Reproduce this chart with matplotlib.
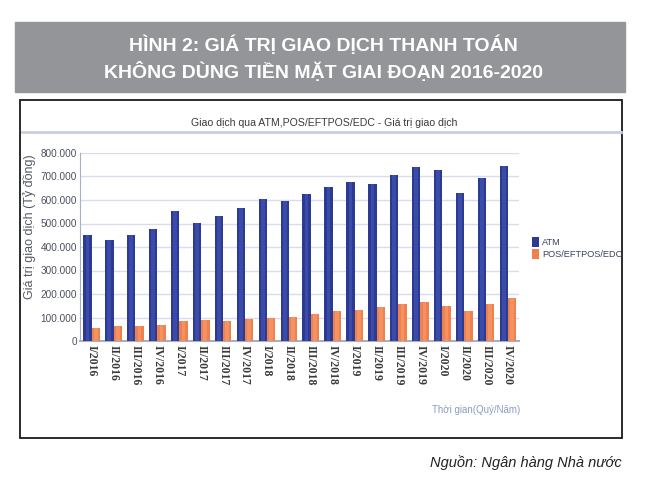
import numpy as np
import matplotlib.pyplot as plt
from matplotlib.patches import Rectangle

quarters = ["I/2016", "II/2016", "III/2016", "IV/2016",
            "I/2017", "II/2017", "III/2017", "IV/2017",
            "I/2018", "II/2018", "III/2018", "IV/2018",
            "I/2019", "II/2019", "III/2019", "IV/2019",
            "I/2020", "II/2020", "III/2020", "IV/2020"]
# ty dong
atm = [453, 431, 450, 477, 552, 504, 530, 567, 604, 594,
       626, 656, 678, 669, 706, 739, 727, 631, 695, 746]
pos = [55, 63, 63, 70, 84, 88, 84, 94, 98, 101,
       117, 127, 131, 145, 158, 168, 149, 127, 158, 182]
yticks = [0, 100, 200, 300, 400, 500, 600, 700, 800]
ytick_labels = ["0", "100.000", "200.000", "300.000", "400.000",
                "500.000", "600.000", "700.000", "800.000"]

BLUE = "#2b3b94"
BLUE_HI = "#4657b4"
ORANGE = "#f0804e"
ORANGE_HI = "#f8a070"
SANS = ["Liberation Sans", "DejaVu Sans"]

fig = plt.figure(figsize=(6.46, 4.78), dpi=100)
W, H = 646, 478

def fx(px):
    return px / W

def fy(py):
    return 1 - py / H

# grey banner
fig.patches.append(Rectangle((fx(15), fy(92)), fx(610), 70 / H,
                             transform=fig.transFigure, color="#939598", zorder=0))
fig.text(0.5, fy(45), "HÌNH 2: GIÁ TRỊ GIAO DỊCH THANH TOÁN", ha="center", va="center",
         color="white", fontsize=14, fontweight="bold", family=SANS)
fig.text(0.5, fy(72), "KHÔNG DÙNG TIỀN MẶT GIAI ĐOẠN 2016-2020", ha="center", va="center",
         color="white", fontsize=14, fontweight="bold", family=SANS)

# chart frame
fig.patches.append(Rectangle((fx(20), fy(438)), fx(602), 338 / H, transform=fig.transFigure,
                             fill=False, edgecolor="#1a1a1a", linewidth=1.3, zorder=1))
fig.lines.append(plt.Line2D([fx(22), fx(621)], [fy(132), fy(132)], transform=fig.transFigure,
                            color="#c9cde0", linewidth=2))
fig.text(fx(324), fy(123), "Giao dịch qua ATM,POS/EFTPOS/EDC - Giá trị giao dịch",
         ha="center", va="center", fontsize=7.6, color="#3a3a3a", family=SANS)

ax = fig.add_axes([fx(80), fy(341), fx(519 - 80), (341 - 153) / H])
x = np.arange(len(quarters))
w = 0.38
ax.bar(x - w / 2, atm, w, color=BLUE, zorder=3, label="ATM")
ax.bar(x - w / 2, atm, w * 0.45, color=BLUE_HI, alpha=0.6, zorder=3)
ax.bar(x + w / 2, pos, w, color=ORANGE, zorder=3, label="POS/EFTPOS/EDC")
ax.bar(x + w / 2, pos, w * 0.45, color=ORANGE_HI, alpha=0.6, zorder=3)

ax.set_xlim(-0.53, 19.5)
ax.set_ylim(0, 800)
ax.set_yticks(yticks)
ax.set_yticklabels(ytick_labels, family=SANS, fontsize=7.2, color="#4a5060")
ax.set_xticks(x)
ax.set_xticklabels(quarters, rotation=270, family="Liberation Serif", fontsize=8.5,
                   fontweight="bold", color="#3a3a3a", va="top")
ax.tick_params(axis="y", length=0, pad=2)
ax.tick_params(axis="x", length=0, pad=3)
ax.grid(axis="y", color="#d9dcec", linewidth=1, zorder=0)
for s in ["top", "right"]:
    ax.spines[s].set_visible(False)
ax.spines["left"].set_color("#a8aec8")
ax.spines["bottom"].set_color("#a8aec8")
ax.spines["bottom"].set_linewidth(1.5)

ax.set_ylabel("Giá trị giao dịch (Tỷ đồng)", family=SANS, fontsize=9, color="#555a66")
ax.yaxis.set_label_coords(-0.10, 0.61)

leg = fig.legend(loc="upper left", bbox_to_anchor=(fx(528), fy(233)), frameon=False,
                 prop={"family": SANS, "size": 6.6}, handlelength=0.75, handleheight=1.3,
                 handletextpad=0.4, labelspacing=0.25, borderaxespad=0)
for t in leg.get_texts():
    t.set_color("#3a4060")

fig.text(fx(520), fy(410), "Thời gian(Quý/Năm)", ha="right", va="center", fontsize=7,
         color="#8a9ac0", family=SANS)

fig.text(fx(622), fy(463), "Nguồn: Ngân hàng Nhà nước", ha="right", va="center",
         fontsize=10.5, style="italic", color="#222222", family=SANS)

fig.savefig("out.png", dpi=100)
